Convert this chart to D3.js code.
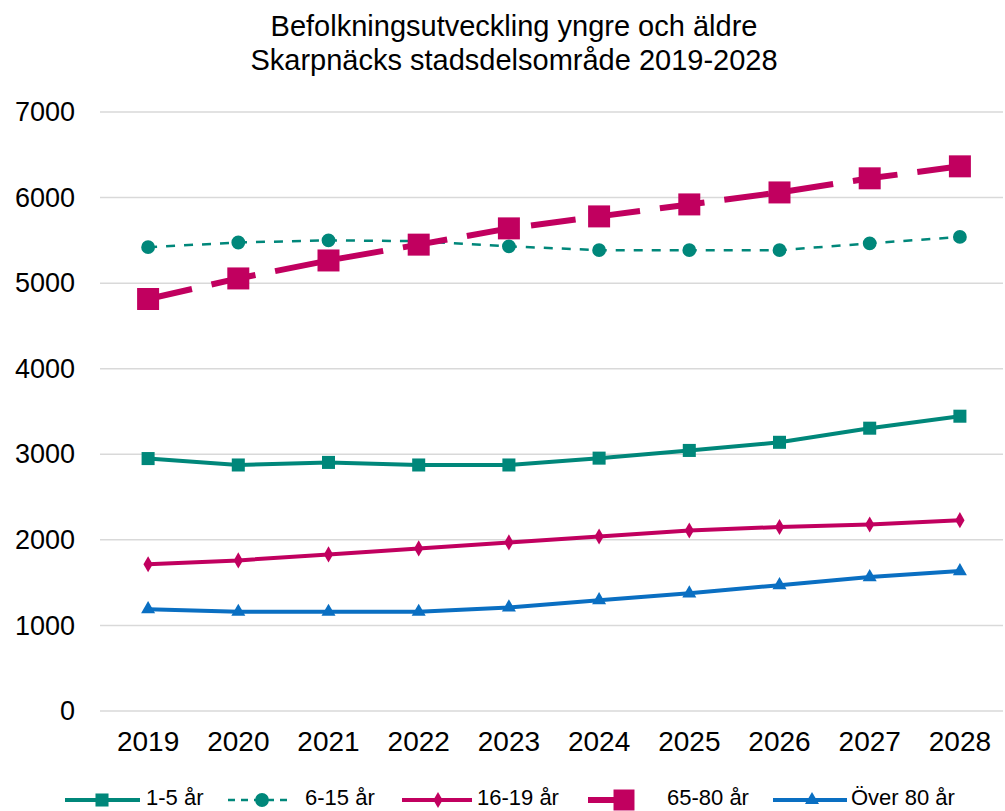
<!DOCTYPE html>
<html>
<head>
<meta charset="utf-8">
<script src="https://cdn.jsdelivr.net/npm/d3@7"></script>
<style>
  body { margin: 0; background: #fff; }
  text { font-family: "Liberation Sans", Arial, sans-serif; fill: #000; }
</style>
</head>
<body>
<div id="chart"></div>
<script>
const years = [2019, 2020, 2021, 2022, 2023, 2024, 2025, 2026, 2027, 2028];
const yTicks = [0, 1000, 2000, 3000, 4000, 5000, 6000, 7000];
const age1to5 = [2950, 2875, 2905, 2875, 2875, 2955, 3045, 3140, 3305, 3445];
const age6to15 = [5420, 5475, 5500, 5490, 5430, 5385, 5385, 5385, 5465, 5540];
const age16to19 = [1715, 1760, 1830, 1900, 1970, 2040, 2110, 2150, 2180, 2230];
const age65to80 = [4815, 5055, 5265, 5450, 5640, 5780, 5920, 6060, 6225, 6365];
const age80plus = [1190, 1160, 1160, 1160, 1210, 1295, 1375, 1470, 1565, 1635];

const series = [
  { name: '1-5 år', values: age1to5, color: '#00877a', width: 4, dash: null, symbol: d3.symbolSquare, size: 170 },
  { name: '6-15 år', values: age6to15, color: '#00877a', width: 2.5, dash: '9,9', symbol: d3.symbolCircle, size: 150 },
  { name: '16-19 år', values: age16to19, color: '#c1005f', width: 4, dash: null, symbol: d3.symbolDiamond, size: 75 },
  { name: '65-80 år', values: age65to80, color: '#c1005f', width: 6, dash: '45,20', symbol: d3.symbolSquare, size: 484 },
  { name: 'Över 80 år', values: age80plus, color: '#0a6fc2', width: 4, dash: null, symbol: d3.symbolTriangle, size: 85 }
];

const W = 1005, H = 811;
const svg = d3.select('#chart').append('svg')
    .attr('width', W)
    .attr('height', H);

const x = d3.scaleBand().domain(years).range([103, 1005]);
const y = d3.scaleLinear().domain([0, 7000]).range([711, 112]);
const cx = d => x(d) + x.bandwidth() / 2;

// title
svg.append('text')
    .attr('x', 514).attr('y', 36)
    .attr('text-anchor', 'middle')
    .style('font-size', '29px')
    .text('Befolkningsutveckling yngre och äldre');
svg.append('text')
    .attr('x', 514).attr('y', 70)
    .attr('text-anchor', 'middle')
    .style('font-size', '29px')
    .text('Skarpnäcks stadsdelsområde 2019-2028');

// gridlines
svg.append('g').selectAll('line')
  .data(yTicks)
  .join('line')
    .attr('x1', 100).attr('x2', 1003)
    .attr('y1', d => y(d)).attr('y2', d => y(d))
    .attr('stroke', '#d9d9d9')
    .attr('stroke-width', 1.5);

// y axis
const yAxis = svg.append('g')
    .attr('transform', 'translate(88,0)')
    .call(d3.axisLeft(y).tickValues(yTicks).tickSize(0).tickPadding(13).tickFormat(d3.format('d')));
yAxis.select('.domain').remove();
yAxis.selectAll('text').style('font-size', '27px').attr('fill', '#000');

// x axis
const xAxis = svg.append('g')
    .attr('transform', 'translate(0,723)')
    .call(d3.axisBottom(x).tickSize(0).tickPadding(8).tickFormat(d3.format('d')));
xAxis.select('.domain').remove();
xAxis.selectAll('text').style('font-size', '28px').attr('fill', '#000');

const line = d3.line()
    .x((d, i) => cx(years[i]))
    .y(d => y(d));

series.forEach(s => {
  svg.append('path')
      .datum(s.values)
      .attr('fill', 'none')
      .attr('stroke', s.color)
      .attr('stroke-width', s.width)
      .attr('stroke-dasharray', s.dash)
      .attr('d', line);

  svg.append('g').selectAll('path')
    .data(s.values)
    .join('path')
      .attr('transform', (d, i) => `translate(${cx(years[i])},${y(d)})`)
      .attr('d', d3.symbol().type(s.symbol).size(s.size))
      .attr('fill', s.color);
});

// legend
const legendItems = [
  { x1: 65, x2: 140, mx: 102, tx: 146 },
  { x1: 228, x2: 290, mx: 262, tx: 305 },
  { x1: 402, x2: 472, mx: 438, tx: 477 },
  { x1: 588, x2: 624, mx: 624, tx: 667 },
  { x1: 773, x2: 847, mx: 812, tx: 851 }
];
const legendY = 800;
series.forEach((s, i) => {
  const it = legendItems[i];
  const g = svg.append('g');
  g.append('line')
      .attr('x1', it.x1).attr('x2', it.x2)
      .attr('y1', legendY).attr('y2', legendY)
      .attr('stroke', s.color).attr('stroke-width', s.width)
      .attr('stroke-dasharray', i === 1 ? '7,6' : null);
  g.append('path')
      .attr('transform', `translate(${it.mx},${legendY})`)
      .attr('d', d3.symbol().type(s.symbol).size(i === 3 ? 440 : s.size))
      .attr('fill', s.color);
  g.append('text')
      .attr('x', it.tx).attr('y', legendY + 5)
      .style('font-size', '22px')
      .text(s.name);
});
</script>
</body>
</html>
